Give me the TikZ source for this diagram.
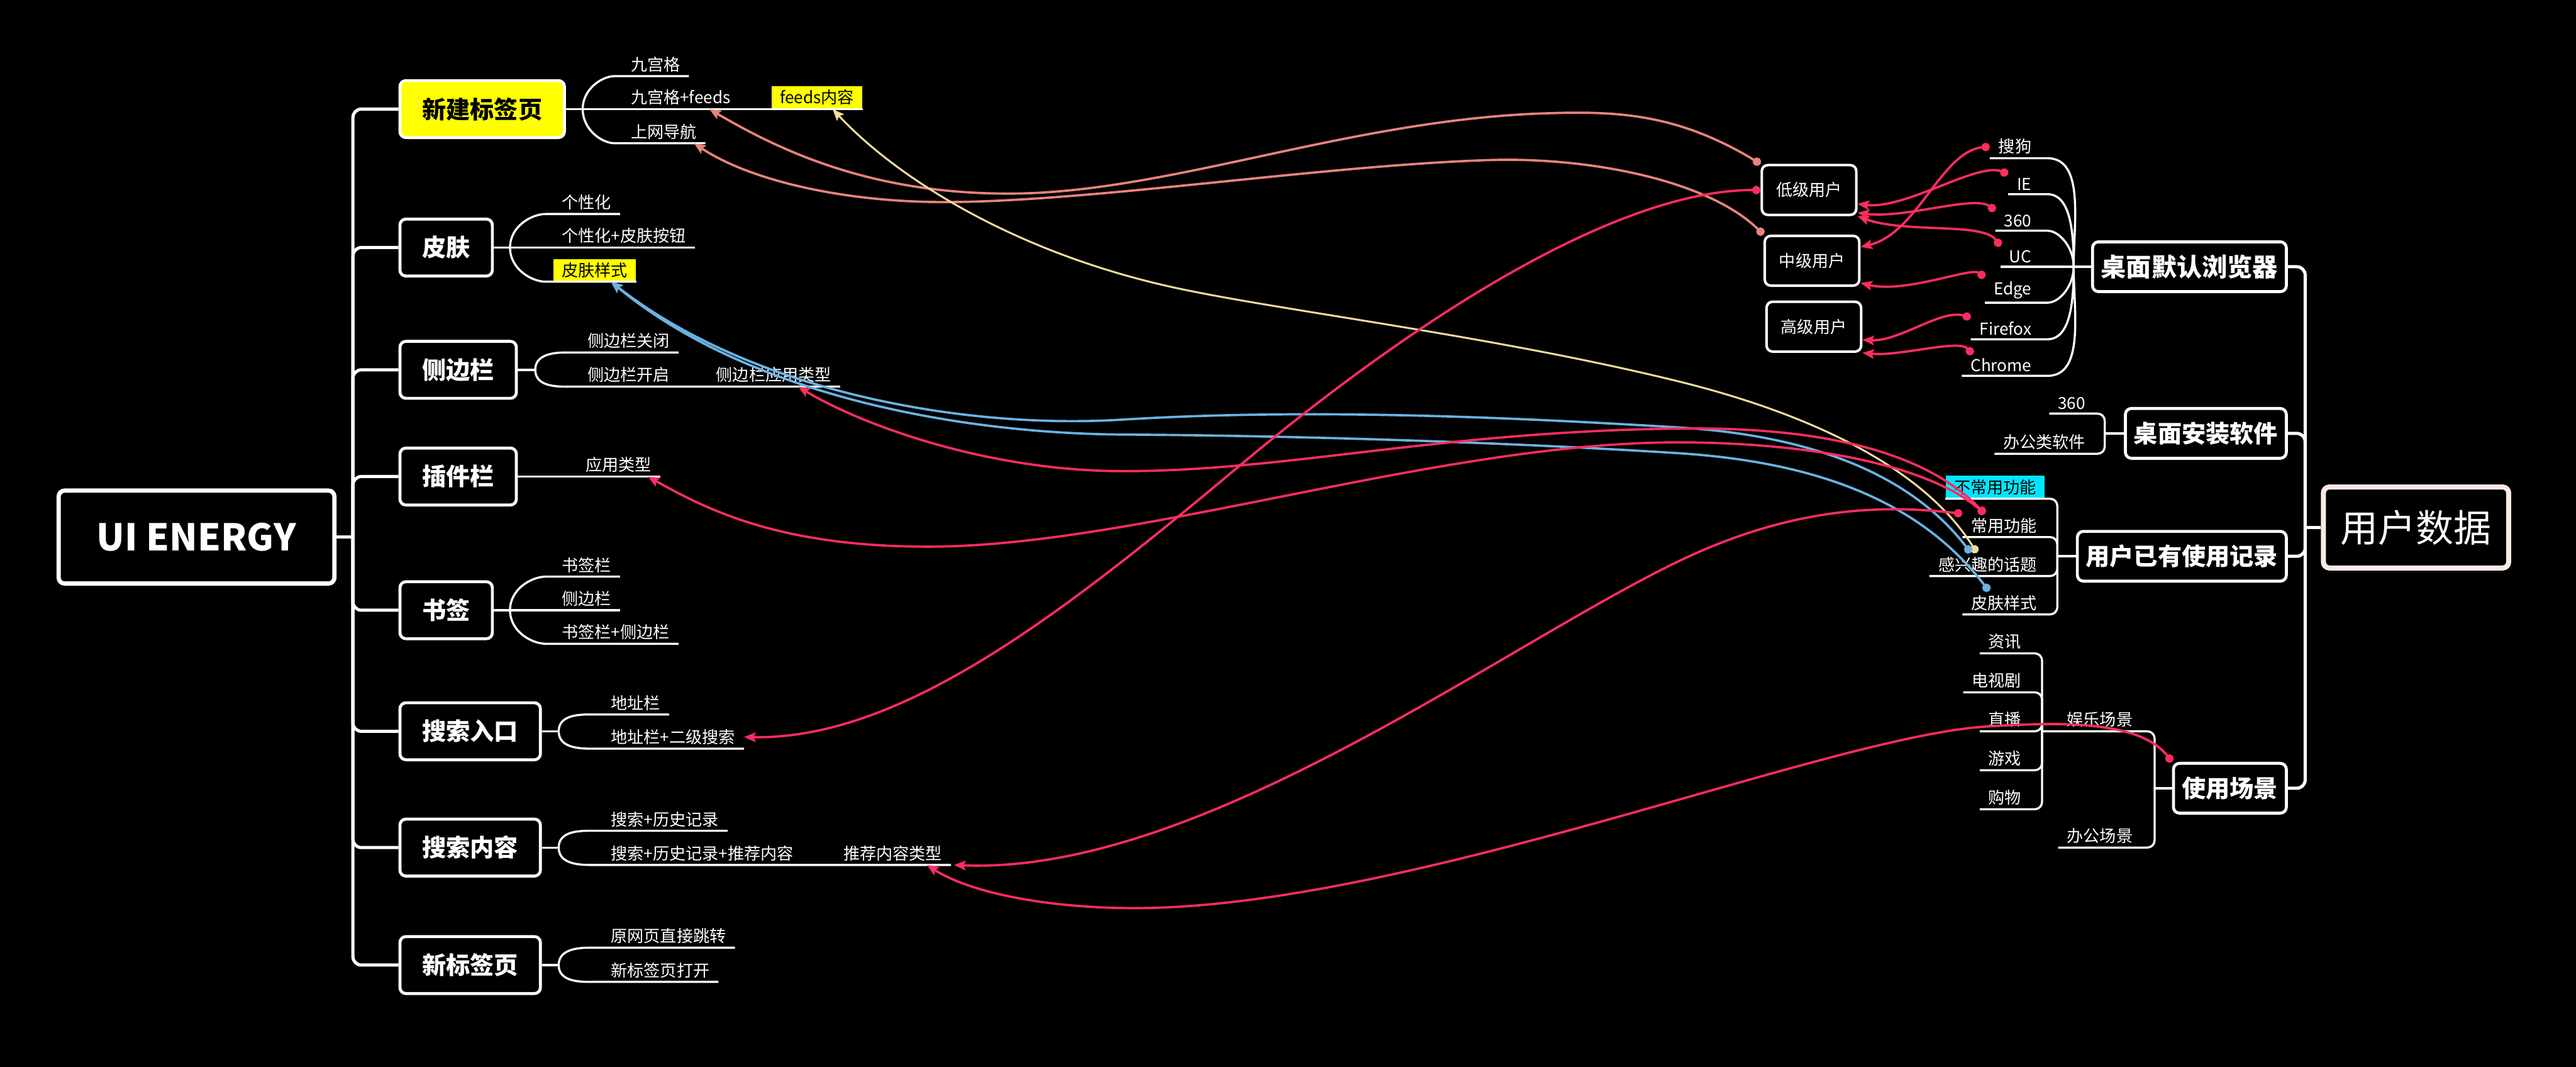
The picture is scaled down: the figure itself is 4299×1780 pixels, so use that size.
\documentclass[tikz,border=0pt]{standalone}
\usepackage{fontspec}
\setmainfont{Noto Sans CJK SC}
\usepackage{xcolor}
\usepackage{tikz}
\usetikzlibrary{arrows.meta, calc}

\definecolor{relred}{HTML}{FF2D5F}
\definecolor{relsalmon}{HTML}{E9837B}
\definecolor{relblue}{HTML}{6AB3E2}
\definecolor{relyellow}{HTML}{F3DD9E}
\definecolor{yellowbg}{HTML}{FFFF00}
\definecolor{cyanbg}{HTML}{00E5FF}
\definecolor{rootpink}{HTML}{FBE9E7}

\tikzset{
  rootbox/.style={draw=white, line width=2pt, rounded corners=0.1cm, text=white},
  topicl/.style={draw=white, line width=1.4pt, rounded corners=0.1cm, text=white,
    font=\fontsize{11.4}{13}\selectfont\bfseries, inner xsep=0.37cm, minimum height=0.95cm, anchor=west},
  topicr/.style={topicl, inner xsep=0.14cm, minimum height=0.83cm, anchor=east},
  userbox/.style={draw=white, line width=1.2pt, rounded corners=0.1cm, text=white,
    font=\fontsize{7.8}{9}\selectfont, inner xsep=0.24cm, minimum height=0.83cm, anchor=east},
  leafl/.style={text=white, font=\fontsize{7.8}{9}\selectfont, inner xsep=0.14cm, inner ysep=0.06cm, anchor=south west},
  leafr/.style={leafl, anchor=south east},
  markyel/.style={fill=yellowbg, text=black},
  markcyan/.style={fill=cyanbg, text=black},
  trunk/.style={draw=white, line width=1.5pt, rounded corners=0.14cm},
  branch/.style={draw=white, line width=1pt, rounded corners=0.12cm},
  rel/.style={line width=1.1pt, {Circle[length=4pt]}-{Stealth[length=5.5pt,width=4.5pt,inset=1pt]}},
}

\begin{document}
\begin{tikzpicture}[x=0.01cm, y=-0.01cm]
\fill[black] (0,0) rectangle (4299,1780);
\useasboundingbox (0,0) rectangle (4299,1780);

% left tree
\node[rootbox, font=\fontsize{17.5}{20}\selectfont\bfseries, minimum width=4.6cm, minimum height=1.55cm] (uie) at (328,896) {UI ENERGY};
\coordinate (jl) at (589,896);
\node[topicl, fill=yellowbg, text=black] (xjbq) at (665,182) {新建标签页};
\node[topicl] (pf) at (665,413) {皮肤};
\node[topicl] (cbl) at (665,617) {侧边栏};
\node[topicl] (cjl) at (665,795) {插件栏};
\node[topicl] (sq) at (665,1018) {书签};
\node[topicl] (ssrk) at (665,1220) {搜索入口};
\node[topicl] (ssnr) at (665,1414) {搜索内容};
\node[topicl] (xbqy) at (665,1610) {新标签页};
\draw[trunk] (uie.east) -- (jl);
\foreach \t in {xjbq,pf,cbl,cjl,sq,ssrk,ssnr,xbqy}
  \draw[trunk] (jl) |- (\t.west);

% 新建标签页
\node[leafl] (jgg) at (1038,127) {九宫格};
\node[leafl] (jgf) at (1038,182) {九宫格+feeds};
\node[leafl] (swdh) at (1038,239) {上网导航};
\node[leafl, markyel, anchor=south east] (feedsnr) at (1440,182) {feeds内容};
\coordinate (f1) at ([xshift=0.28cm]xjbq.east);
\draw[branch] (xjbq.east) -- (jgf.south east) -- (feedsnr.south east);
\draw[branch] (f1) to[out=90,in=180] (jgg.south west) -- (jgg.south east);
\draw[branch] (f1) to[out=-90,in=180] (swdh.south west) -- (swdh.south east);

% 皮肤
\node[leafl] (gxh) at (923,357) {个性化};
\node[leafl] (gxhan) at (923,413) {个性化+皮肤按钮};
\node[leafl, markyel] (pfysl) at (923,470) {皮肤样式};
\coordinate (f2) at ([xshift=0.27cm]pf.east);
\draw[branch] (pf.east) -- (gxhan.south east);
\draw[branch] (f2) to[out=90,in=180] (gxh.south west) -- (gxh.south east);
\draw[branch] (f2) to[out=-90,in=180] (pfysl.south west) -- (pfysl.south east);

% 侧边栏
\node[leafl] (cbgb) at (966,588) {侧边栏关闭};
\node[leafl] (cbkq) at (966,645) {侧边栏开启};
\node[leafr] (cbyy) at (1402,645) {侧边栏应用类型};
\coordinate (f3) at ([xshift=0.29cm]cbl.east);
\draw[branch] (cbl.east) -- (f3);
\draw[branch] (f3) to[out=90,in=180] (cbgb.south west) -- (cbgb.south east);
\draw[branch] (f3) to[out=-90,in=180] (cbkq.south west) -- (cbyy.south east);

% 插件栏
\node[leafr] (yylx) at (1102,795) {应用类型};
\draw[branch] (cjl.east) -- (yylx.south east);

% 书签
\node[leafl] (sqlan) at (923,962) {书签栏};
\node[leafl] (sqcb) at (923,1018) {侧边栏};
\node[leafl] (sqlcb) at (923,1074) {书签栏+侧边栏};
\coordinate (f5) at ([xshift=0.27cm]sq.east);
\draw[branch] (sq.east) -- (sqcb.south east);
\draw[branch] (f5) to[out=90,in=180] (sqlan.south west) -- (sqlan.south east);
\draw[branch] (f5) to[out=-90,in=180] (sqlcb.south west) -- (sqlcb.south east);

% 搜索入口
\node[leafl] (dzl) at (1005,1192) {地址栏};
\node[leafl] (dzej) at (1005,1249) {地址栏+二级搜索};
\coordinate (f6) at ([xshift=0.28cm]ssrk.east);
\draw[branch] (ssrk.east) -- (f6);
\draw[branch] (f6) to[out=90,in=180] (dzl.south west) -- (dzl.south east);
\draw[branch] (f6) to[out=-90,in=180] (dzej.south west) -- (dzej.south east);

% 搜索内容
\node[leafl] (lsjl) at (1005,1386) {搜索+历史记录};
\node[leafl] (lstj) at (1005,1443) {搜索+历史记录+推荐内容};
\node[leafr] (tjlx) at (1587,1443) {推荐内容类型};
\coordinate (f7) at ([xshift=0.28cm]ssnr.east);
\draw[branch] (ssnr.east) -- (f7);
\draw[branch] (f7) to[out=90,in=180] (lsjl.south west) -- (lsjl.south east);
\draw[branch] (f7) to[out=-90,in=180] (lstj.south west) -- (tjlx.south east);

% 新标签页
\node[leafl] (ywy) at (1005,1581) {原网页直接跳转};
\node[leafl] (xbdk) at (1005,1638) {新标签页打开};
\coordinate (f8) at ([xshift=0.28cm]xbqy.east);
\draw[branch] (xbqy.east) -- (f8);
\draw[branch] (f8) to[out=90,in=180] (ywy.south west) -- (ywy.south east);
\draw[branch] (f8) to[out=-90,in=180] (xbdk.south west) -- (xbdk.south east);

% right tree
\node[rootbox, draw=rootpink, line width=2.4pt, font=\fontsize{17.9}{20}\selectfont, minimum width=3.09cm, minimum height=1.35cm] (yhsj) at (4032,880) {用户数据};
\coordinate (jr) at (3847,880);
\node[topicr, font=\fontsize{12}{14}\selectfont\bfseries, minimum width=3.04cm] (zmll) at (3818,445) {桌面默认浏览器};
\node[topicr] (zmaz) at (3818,723) {桌面安装软件};
\node[topicr] (yhjl) at (3818,928) {用户已有使用记录};
\node[topicr] (sycj) at (3818,1315) {使用场景};
\draw[trunk] (yhsj.west) -- (jr);
\foreach \t in {zmll,zmaz,yhjl,sycj}
  \draw[trunk] (jr) |- (\t.east);

% 桌面默认浏览器
\coordinate (jb) at ([xshift=-0.29cm]zmll.west);
\node[leafr] (sg) at (3405,264) {搜狗};
\node[leafr] (ie) at (3405,324) {IE};
\node[leafr] (s360) at (3405,385) {360};
\node[leafr] (uc) at (3405,445) {UC};
\node[leafr] (edge) at (3405,505) {Edge};
\node[leafr] (ff) at (3405,566) {Firefox};
\node[leafr] (chr) at (3405,627) {Chrome};
\foreach \l in {sg,ie,s360}
  \draw[branch] (\l.south west) -- (\l.south east) to[out=0,in=90] (jb);
\draw[branch] (uc.south west) -- (zmll.west);
\foreach \l in {edge,ff,chr}
  \draw[branch] (\l.south west) -- (\l.south east) to[out=0,in=-90] (jb);

% 桌面安装软件
\coordinate (ji) at ([xshift=-0.32cm]zmaz.west);
\node[leafr] (az360) at (3495,690) {360};
\node[leafr] (bgrj) at (3495,757) {办公类软件};
\foreach \l in {az360,bgrj}
  \draw[branch] (\l.south west) -| (ji);
\draw[branch] (ji) -- (zmaz.west);

% 用户已有使用记录
\coordinate (ju) at ([xshift=-0.31cm]yhjl.west);
\node[leafr, markcyan] (bcy) at (3413,832) {不常用功能};
\node[leafr] (cy) at (3414,896) {常用功能};
\node[leafr] (gxq) at (3414,961) {感兴趣的话题};
\node[leafr] (pfysr) at (3414,1025) {皮肤样式};
\foreach \l in {bcy,cy,gxq,pfysr}
  \draw[branch] (\l.south west) -| (ju);
\draw[branch] (ju) -- (yhjl.west);

% 使用场景
\coordinate (js) at ([xshift=-0.29cm]sycj.west);
\node[leafr] (ylcj) at (3574,1220) {娱乐场景};
\node[leafr] (bgcj) at (3574,1414) {办公场景};
\coordinate (je) at ([xshift=-0.27cm]ylcj.south west);
\draw[branch] (je) -| (js);
\draw[branch] (bgcj.south west) -| (js);
\draw[branch] (js) -- (sycj.west);
\node[leafr] (zx) at (3388,1090) {资讯};
\node[leafr] (dsj) at (3388,1155) {电视剧};
\node[leafr] (zb) at (3388,1220) {直播};
\node[leafr] (yx) at (3388,1285) {游戏};
\node[leafr] (gw) at (3388,1350) {购物};
\foreach \l in {zx,dsj,zb,yx,gw}
  \draw[branch] (\l.south west) -| (je);

% user levels
\node[userbox] (lowu) at (3100,317) {低级用户};
\node[userbox] (midu) at (3105,435) {中级用户};
\node[userbox] (highu) at (3108,545) {高级用户};

% relations: browsers to user levels
\draw[rel, relred] (sg.west) .. controls (3240,252) and (3200,390) .. ([yshift=0.23cm]midu.east);
\draw[rel, relred] (ie.north west) .. controls (3300,270) and (3180,350) .. ([yshift=-0.23cm]lowu.east);
\draw[rel, relred] (s360.north west) .. controls (3295,325) and (3180,365) .. ([yshift=-0.38cm]lowu.east);
\draw[rel, relred] (uc.north west) .. controls (3310,370) and (3180,390) .. (lowu.south east);
\draw[rel, relred] (edge.north west) .. controls (3290,445) and (3180,490) .. ([yshift=-0.37cm]midu.east);
\draw[rel, relred] (ff.north west) .. controls (3240,515) and (3170,570) .. ([yshift=-0.22cm]highu.east);
\draw[rel, relred] ([xshift=0.18cm]chr.north west) .. controls (3270,565) and (3170,595) .. (highu.south east);

% relations across the map
\draw[rel, relsalmon] (lowu.north west) .. controls (2800,190) and (2700,185) .. (2582,189)
  .. controls (2250,199) and (1950,323) .. (1683,323) .. controls (1450,323) and (1300,250) .. ([xshift=-0.5cm]jgf.south east);
\draw[rel, relsalmon] (midu.north west) .. controls (2850,300) and (2650,262) .. (2487,267)
  .. controls (2200,276) and (1800,340) .. (1560,337) .. controls (1400,335) and (1250,300) .. ([xshift=-0.19cm]swdh.south east);
\draw[rel, relyellow, line width=0.9pt] ([xshift=-0.18cm]gxq.north) .. controls (3210,780) and (3020,690) .. (2800,636)
  .. controls (2500,562) and (2150,520) .. (1970,482) .. controls (1700,425) and (1500,300) .. ([xshift=0.26cm]feedsnr.south);
\draw[rel, relblue] ([xshift=-0.28cm]gxq.north) .. controls (3180,780) and (3000,725) .. (2800,713)
  .. controls (2550,698) and (2200,680) .. (1874,700) .. controls (1600,717) and (1250,650) .. ([xshift=0.27cm]pfysl.south);
\draw[rel, relblue] ([xshift=-0.25cm]pfysr.north) .. controls (3200,830) and (3020,770) .. (2800,756)
  .. controls (2550,740) and (2200,727) .. (1874,725) .. controls (1600,723) and (1250,660) .. ([xshift=0.27cm]pfysl.south);
\draw[rel, relred] (lowu.west) .. controls (2700,317) and (2367,527) .. (2065,780)
  .. controls (1763,1033) and (1500,1234) .. (dzej.east);
\draw[rel, relred] ([xshift=-0.32cm]cy.north) .. controls (3200,740) and (3000,712) .. (2800,715)
  .. controls (2400,720) and (2150,786) .. (1874,786) .. controls (1650,786) and (1440,710) .. ([xshift=-0.7cm]cbyy.south east);
\draw[rel, relred] ([xshift=-0.32cm]cy.north) .. controls (3210,770) and (3000,738) .. (2800,738)
  .. controls (2400,738) and (1900,912) .. (1549,912) .. controls (1300,912) and (1180,850) .. ([xshift=-0.21cm]yylx.south east);
\draw[rel, relred] (cy.north west) .. controls (3130,840) and (2980,850) .. (2800,937)
  .. controls (2500,1082) and (2000,1460) .. ([xshift=0.05cm]tjlx.south east);
\draw[rel, relred] (sycj.north west) .. controls (3570,1200) and (3430,1205) .. (3316,1212)
  .. controls (3050,1228) and (2350,1515) .. (1893,1515) .. controls (1750,1515) and (1620,1490) .. ([xshift=-0.4cm]tjlx.south east);
\end{tikzpicture}
\end{document}
